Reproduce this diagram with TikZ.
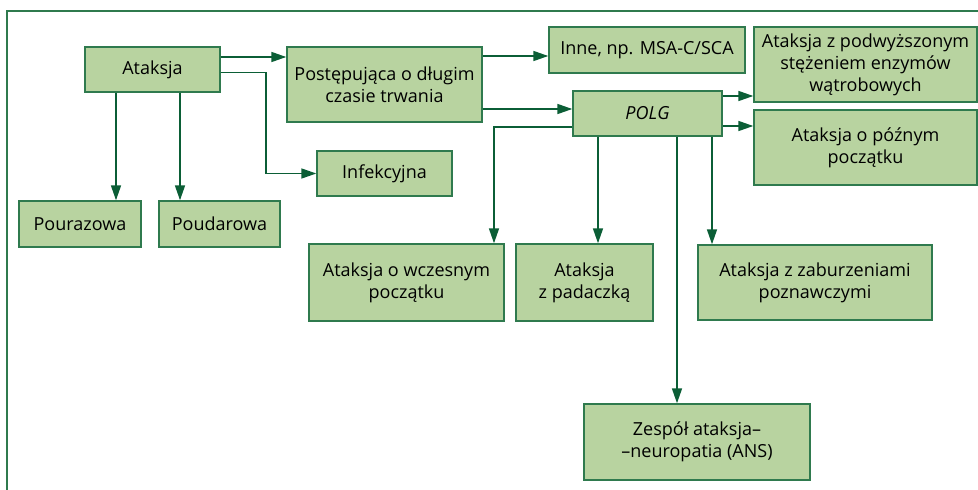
\documentclass[tikz,border=0pt]{standalone}
\usepackage{fontspec}
\setmainfont{Open Sans}
\usepackage{tikz}
\usetikzlibrary{arrows.meta}

\definecolor{boxfill}{HTML}{B8D3A0}
\definecolor{boxline}{HTML}{2F7A4E}
\definecolor{arrline}{HTML}{0B5E36}

\tikzset{
  box/.style={draw=boxline, line width=1.4pt, fill=boxfill, align=center,
    inner sep=0pt, font=\fontsize{18}{22}\selectfont, text=black},
  arr/.style={draw=arrline, line width=1.6pt, -{Triangle[length=15pt,width=10pt]}}
}

\begin{document}
\begin{tikzpicture}[x=1pt,y=-1pt]
    \useasboundingbox (0,0) rectangle (978,490);
    \draw[boxline, line width=1.2pt] (7,490) -- (7,11) -- (978,11);

    \node[box, minimum width=135pt, minimum height=45pt] (atak) at (152.5,69.5) {Ataksja};
    \node[box, minimum width=122pt, minimum height=46pt] (pouraz) at (80,224) {Pourazowa};
    \node[box, minimum width=121pt, minimum height=46pt] (poudar) at (219.5,224) {Poudarowa};
    \node[box, minimum width=195pt, minimum height=75pt] (postep) at (384.5,84.5) {Postępująca o długim\\czasie trwania};
    \node[box, minimum width=135pt, minimum height=45pt] (infek) at (384.5,173.5) {Infekcyjna};
    \node[box, minimum width=196pt, minimum height=46pt] (inne) at (647,50) {Inne, np. MSA-C/SCA};
    \node[box, minimum width=149pt, minimum height=45pt] (polg) at (647.5,113.5) {\itshape POLG};
    \node[box, minimum width=223pt, minimum height=75pt] (podw) at (865.5,64.5) {Ataksja z podwyższonym\\stężeniem enzymów\\wątrobowych};
    \node[box, minimum width=223pt, minimum height=75pt] (pozny) at (865.5,147.5) {Ataksja o późnym\\początku};
    \node[box, minimum width=195pt, minimum height=77pt] (wczes) at (406.5,282.5) {Ataksja o wczesnym\\początku};
    \node[box, minimum width=137pt, minimum height=77pt] (padacz) at (584.5,282.5) {Ataksja\\z padaczką};
    \node[box, minimum width=234pt, minimum height=75pt] (zabur) at (815,282.5) {Ataksja z zaburzeniami\\poznawczymi};
    \node[box, minimum width=226pt, minimum height=76pt] (ans) at (697,442) {Zespół ataksja–\\–neuropatia (ANS)};

    \draw[arr] ([yshift=12.5pt]atak.east) -- ([yshift=12.5pt]atak.east -| postep.west);
    \draw[arr] ([yshift=-3pt]atak.east) -- ([xshift=45pt,yshift=-3pt]atak.east) |- (infek.west);
    \draw[arr] ([xshift=-36.5pt]atak.south) -- ([xshift=-36.5pt]atak.south |- pouraz.north);
    \draw[arr] ([xshift=27.5pt]atak.south) -- ([xshift=27.5pt]atak.south |- poudar.north);
    \draw[arr] ([yshift=28.5pt]postep.east) -- ([yshift=28.5pt]postep.east -| inne.west);
    \draw[arr] ([yshift=-24.5pt]postep.east) -- ([yshift=-24.5pt]postep.east -| polg.west);
    \draw[arr] ([yshift=17.5pt]polg.east) -- ([yshift=17.5pt]polg.east -| podw.west);
    \draw[arr] ([yshift=-12.5pt]polg.east) -- ([yshift=-12.5pt]polg.east -| pozny.west);
    \draw[arr] ([yshift=-13.5pt]polg.west) -| ([xshift=87.5pt]wczes.north);
    \draw[arr] ([xshift=-49.5pt]polg.south) -- ([xshift=-49.5pt]polg.south |- padacz.north);
    \draw[arr] ([xshift=64.5pt]polg.south) -- ([xshift=64.5pt]polg.south |- zabur.north);
    \draw[arr] ([xshift=29.5pt]polg.south) -- ([xshift=29.5pt]polg.south |- ans.north);
\end{tikzpicture}
\end{document}
